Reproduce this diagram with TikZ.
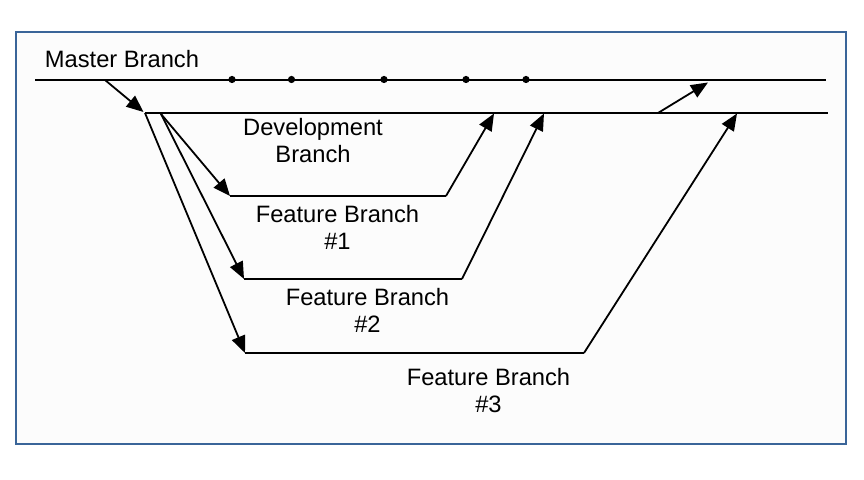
\documentclass[tikz,border=0pt]{standalone}
\usepackage{fontspec}
\setmainfont{Liberation Sans}
\usetikzlibrary{arrows.meta}
\definecolor{framec}{HTML}{3A6599}
\definecolor{bgc}{HTML}{FCFCFC}
\begin{document}
\begin{tikzpicture}[x=0.5pt,y=-0.5pt,
  branch/.style={line width=1pt,black},
  merge/.style={line width=0.9pt,black,-{Triangle[length=8.5pt,width=7pt]}},
  lbl/.style={align=center,inner sep=0pt,font=\fontsize{11.85pt}{13.5pt}\selectfont},
  commit/.style={circle,fill=black,inner sep=0pt,minimum size=3.6pt}]
\useasboundingbox (0,0) rectangle (864,480);
\draw[framec,fill=bgc,line width=1pt] (15.5,32) rectangle (845.5,444.5);
% master
\coordinate (m0) at (35,80);
\coordinate (m1) at (826,80);
\draw[branch] (m0) -- (m1);
\foreach \x/\n in {232/c1,291.5/c2,384/c3,466/c4,526/c5}
  \node[commit] (\n) at (\x,79.5) {};
% development
\coordinate (d0) at (145,113);
\coordinate (d1) at (828,113);
\draw[branch] (d0) -- (d1);
\coordinate (mfork) at (105,80);
\draw[merge] (mfork) -- (143.5,112);
\coordinate (dmerge) at (658,113);
\coordinate (mmerge) at (708,82.5);
\draw[merge] (dmerge) -- (mmerge);
% feature 1
\coordinate (f1s) at (161,114);
\coordinate (f1a) at (230,196);
\coordinate (f1b) at (446,196);
\coordinate (f1e) at (494,113.5);
\draw[merge] (f1s) -- (f1a);
\draw[branch] (f1a) -- (f1b);
\draw[merge] (f1b) -- (f1e);
% feature 2
\coordinate (f2a) at (244,279);
\coordinate (f2b) at (462,279);
\coordinate (f2e) at (544,113.5);
\draw[merge] (f1s) -- (f2a);
\draw[branch] (f2a) -- (f2b);
\draw[merge] (f2b) -- (f2e);
% feature 3
\coordinate (f3s) at (145,113);
\coordinate (f3a) at (245,353);
\coordinate (f3b) at (584,353);
\coordinate (f3e) at (737,113.5);
\draw[merge] (f3s) -- (f3a);
\draw[branch] (f3a) -- (f3b);
\draw[merge] (f3b) -- (f3e);
% labels
\node[lbl] (lm) at (122,59) {Master Branch};
\node[lbl] (ld) at (313,140.5) {Development\\Branch};
\node[lbl] (l1) at (337.5,227.5) {Feature Branch\\\#1};
\node[lbl] (l2) at (367.5,310.5) {Feature Branch\\\#2};
\node[lbl] (l3) at (488.5,390.5) {Feature Branch\\\#3};
\end{tikzpicture}
\end{document}
